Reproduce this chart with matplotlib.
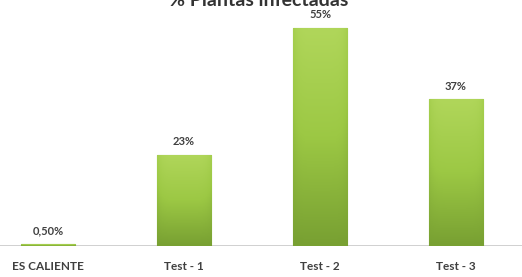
import numpy as np
import matplotlib
matplotlib.use('Agg')
import matplotlib.pyplot as plt
from matplotlib.colors import LinearSegmentedColormap

categories = ['ES CALIENTE', 'Test - 1', 'Test - 2', 'Test - 3']
values = [0.5, 23, 55, 37]
labels = ['0,50%', '23%', '55%', '37%']

plt.rcParams['font.family'] = ['Lato', 'DejaVu Sans']

fig = plt.figure(figsize=(5.22, 2.77), dpi=100)
ax = fig.add_axes([0, 31 / 277, 1, 246 / 277])

x = np.arange(len(categories))
bars = ax.bar(x, values, width=0.40, color='#92c03c', edgecolor='#7ea536',
              linewidth=0.8, zorder=2)

# vertical gradient + side shading inside each bar
cmap = LinearSegmentedColormap.from_list('grn', ['#78a032', '#9cc844', '#b0d65a'])
for b in bars:
    x0, y0 = b.get_x(), b.get_y()
    w, h = b.get_width(), b.get_height()
    grad = np.linspace(0, 1, 64).reshape(-1, 1)
    side = 1 - 0.25 * np.abs(np.linspace(-1, 1, 32)) ** 6
    img = grad * side
    im = ax.imshow(img, extent=[x0, x0 + w, y0, y0 + h], origin='lower',
                   cmap=cmap, vmin=0, vmax=1, aspect='auto', zorder=2)
    im.set_clip_path(b)

for xi, v, lab in zip(x, values, labels):
    ax.text(xi, v + 2, lab, ha='center', va='bottom', fontsize=8,
            fontweight='bold', color='#404040')

ax.set_xlim(-48 / 136, 3 + 66 / 136)
ax.set_ylim(0, 246 / 3.96)
ax.axhline(0, color='#c8c8c8', linewidth=1.2, zorder=1)
for s in ax.spines.values():
    s.set_visible(False)
ax.set_yticks([])
ax.set_xticks(x)
ax.set_xticklabels(categories, fontsize=8.5, fontweight='bold', color='#404040')
ax.tick_params(axis='x', length=0, pad=11)

fig.text(0.495, 271 / 277, '% Plantas infectadas', ha='center', va='baseline',
         fontsize=14, fontweight='bold', color='#333333')

fig.savefig('out.png', dpi=100)
